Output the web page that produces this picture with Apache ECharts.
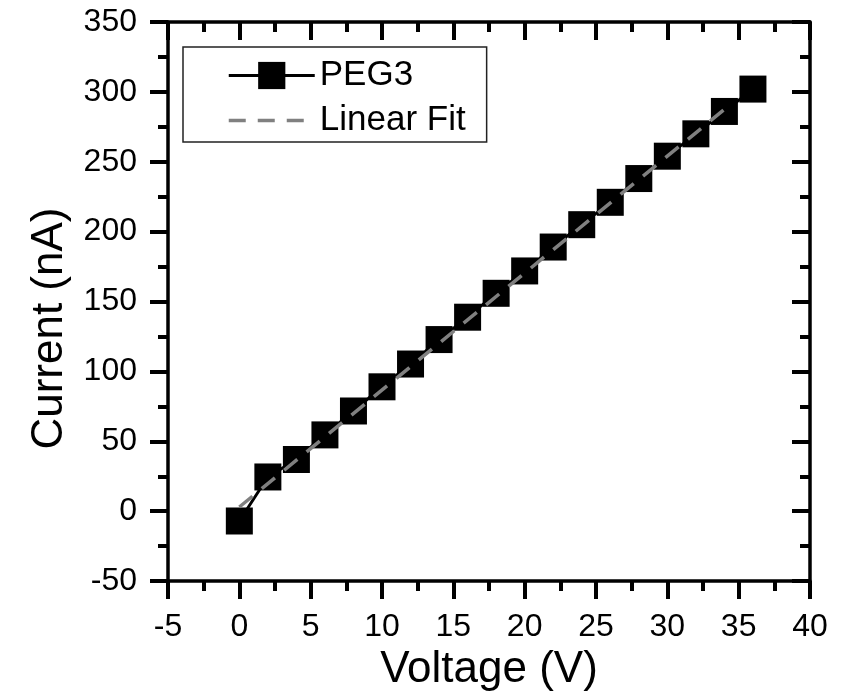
<!DOCTYPE html>
<html><head><meta charset="utf-8">
<script src="https://cdn.jsdelivr.net/npm/echarts@6/dist/echarts.min.js"></script>
<style>html,body{margin:0;padding:0;background:#fff}#c{width:853px;height:697px}</style>
</head><body><div id="c"></div>
<script>
const voltage = [0, 2, 4, 6, 8, 10, 12, 14, 16, 18, 20, 22, 24, 26, 28, 30, 32, 34, 36];
const current = [-7, 24.5, 37, 54.6, 71.7, 89, 105.3, 122.8, 138.8, 155.9, 171.9, 189, 205, 221, 238, 254, 270, 286, 302];
const fitVoltage = [0, 34];
const fitCurrent = [3, 287.5];
const xRange = { min: -5, max: 40, interval: 5 };
const yRange = { min: -50, max: 350, interval: 50 };
const seriesNames = ['PEG3', 'Linear Fit'];
const xTitle = 'Voltage (V)';
const yTitle = 'Current (nA)';

const FONT = '"Liberation Sans", Arial, sans-serif';
const chart = echarts.init(document.getElementById('c'), null, { renderer: 'canvas' });

function axLine() { return { show: true, onZero: false, lineStyle: { color: '#000', width: 3.5 } }; }
function tick(inside) { return { show: true, inside: inside, length: 18, lineStyle: { color: '#000', width: 4 } }; }
function minor() { return { show: true, splitNumber: 2, length: 10, lineStyle: { color: '#000', width: 4 } }; }

const option = {
  animation: false,
  backgroundColor: '#fff',
  grid: { left: 168, right: 43, top: 22, bottom: 113, containLabel: false },
  legend: {
    orient: 'vertical', left: 183, top: 47,
    padding: [11, 21, 4, 44],
    itemGap: 10, itemWidth: 86, itemHeight: 34,
    borderColor: '#222', borderWidth: 1.5,
    textStyle: { fontSize: 35, color: '#000', fontFamily: FONT },
    data: [
      { name: seriesNames[0], lineStyle: { width: 3 } },
      { name: seriesNames[1], itemStyle: { color: 'rgba(0,0,0,0)', borderWidth: 0 }, lineStyle: { width: 3.5 } }
    ]
  },
  xAxis: [
    {
      type: 'value', position: 'bottom', min: xRange.min, max: xRange.max, interval: xRange.interval,
      axisLine: axLine(), axisTick: tick(false), minorTick: minor(),
      splitLine: { show: false }, minorSplitLine: { show: false },
      axisLabel: { fontSize: 32, color: '#000', margin: 30, fontFamily: FONT },
      name: xTitle, nameLocation: 'middle', nameGap: 60,
      nameTextStyle: { fontSize: 44, color: '#000', fontFamily: FONT }
    },
    {
      type: 'value', position: 'top', min: xRange.min, max: xRange.max, interval: xRange.interval,
      axisLine: axLine(), axisTick: tick(true), minorTick: minor(),
      splitLine: { show: false }, axisLabel: { show: false }
    }
  ],
  yAxis: [
    {
      type: 'value', position: 'left', min: yRange.min, max: yRange.max, interval: yRange.interval,
      axisLine: axLine(), axisTick: tick(false), minorTick: minor(),
      splitLine: { show: false }, minorSplitLine: { show: false },
      axisLabel: { fontSize: 32, color: '#000', margin: 31, fontFamily: FONT },
      name: yTitle, nameLocation: 'middle', nameGap: 96, nameRotate: 90,
      nameTextStyle: { fontSize: 44, color: '#000', fontFamily: FONT, padding: [0, 54, 0, 0] }
    },
    {
      type: 'value', position: 'right', min: yRange.min, max: yRange.max, interval: yRange.interval,
      axisLine: axLine(), axisTick: tick(true), minorTick: minor(),
      splitLine: { show: false }, axisLabel: { show: false }
    }
  ],
  series: [
    {
      name: seriesNames[0], type: 'line', xAxisIndex: 0, yAxisIndex: 0,
      data: voltage.map((v, i) => [v, current[i]]),
      symbol: 'rect', symbolSize: 27, showAllSymbol: true,
      itemStyle: { color: '#000', borderWidth: 0 },
      lineStyle: { color: '#000', width: 3 },
      z: 2
    },
    {
      name: seriesNames[1], type: 'line', xAxisIndex: 0, yAxisIndex: 0,
      data: fitVoltage.map((v, i) => [v, fitCurrent[i]]),
      symbol: 'none',
      itemStyle: { color: '#808080' },
      lineStyle: { color: '#808080', width: 3.5, type: [17, 12] },
      z: 3
    }
  ]
};
chart.setOption(option);
</script>
</body></html>
